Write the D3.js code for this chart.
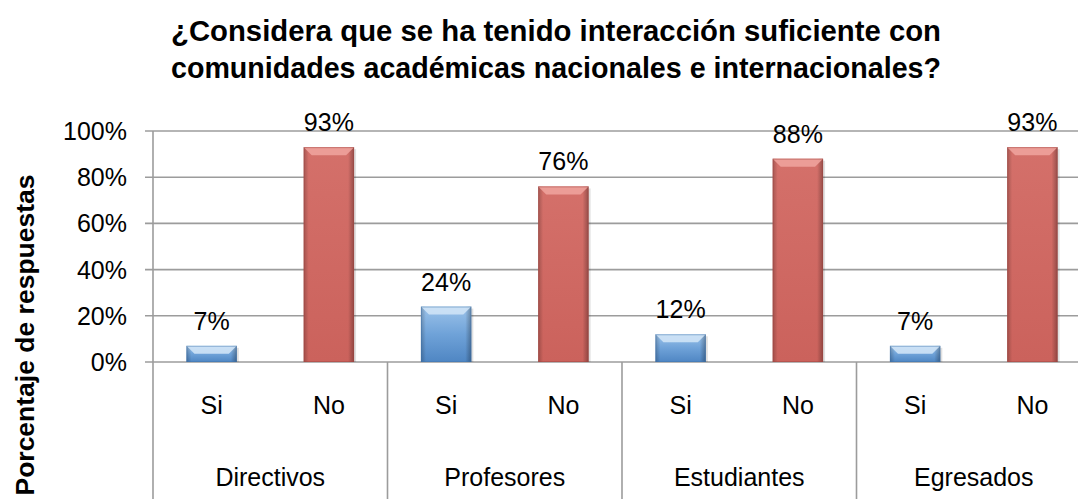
<!DOCTYPE html>
<html>
<head>
<meta charset="utf-8">
<script src="https://cdn.jsdelivr.net/npm/d3@7"></script>
<style>
  html, body { margin: 0; padding: 0; background: #fff; }
  svg { display: block; }
  text { font-family: "Liberation Sans", Arial, sans-serif; fill: #000; }
</style>
</head>
<body>
<svg id="chart" width="1078" height="499"></svg>
<script>
// Survey results per respondent group
const groups = ["Directivos", "Profesores", "Estudiantes", "Egresados"];
const answers = ["Si", "No"];
const siValues = [7, 24, 12, 7];
const noValues = [93, 76, 88, 93];
const yTicks = [0, 20, 40, 60, 80, 100];
const titleLines = [
  "¿Considera que se ha tenido interacción suficiente con",
  "comunidades académicas nacionales e internacionales?"
];
const yAxisTitle = "Porcentaje de respuestas";

const rows = groups.flatMap((g, i) => [
  { group: g, answer: "Si", value: siValues[i] },
  { group: g, answer: "No", value: noValues[i] }
]);

const svg = d3.select("#chart");
const W = 1078, H = 499;
const plot = { left: 153, right: 1091, top: 131, bottom: 362 };

const x0 = d3.scaleBand().domain(groups).range([plot.left, plot.right]).padding(0);
const x1 = d3.scaleBand().domain(answers).range([0, x0.bandwidth()]).padding(0);
const y = d3.scaleLinear().domain([0, 100]).range([plot.bottom, plot.top]);
const barW = x1.bandwidth() * 0.43;

const gridColor = "#9c9c9c";

// Gradients for the bevelled bars
const defs = svg.append("defs");
function vGrad(id, stops) {
  const g = defs.append("linearGradient").attr("id", id)
    .attr("x1", 0).attr("y1", 0).attr("x2", 0).attr("y2", 1);
  stops.forEach(([o, c]) => g.append("stop").attr("offset", o).attr("stop-color", c));
}
function hGrad(id, stops) {
  const g = defs.append("linearGradient").attr("id", id)
    .attr("x1", 0).attr("y1", 0).attr("x2", 1).attr("y2", 0);
  stops.forEach(([o, c, a]) => g.append("stop").attr("offset", o)
    .attr("stop-color", c).attr("stop-opacity", a));
}
vGrad("fillSi", [[0, "#9cc3ea"], [0.5, "#6fa2d8"], [1, "#4f86c3"]]);
vGrad("fillNo", [[0, "#d4706a"], [1, "#cb625c"]]);
hGrad("sideShade", [[0, "#000", 0.22], [0.1, "#000", 0.0], [0.88, "#000", 0.0], [1, "#000", 0.3]]);

const colors = {
  Si: { fill: "url(#fillSi)", top: "#cfe3f6", edge: "#3f73ad" },
  No: { fill: "url(#fillNo)", top: "#eea29c", edge: "#9e4540" }
};

// Horizontal gridlines and y ticks
svg.append("g").selectAll("line").data(yTicks).join("line")
  .attr("x1", plot.left - 8).attr("x2", W)
  .attr("y1", d => y(d)).attr("y2", d => y(d))
  .attr("stroke", gridColor).attr("stroke-width", 1.6);

svg.append("g").selectAll("text").data(yTicks).join("text")
  .attr("x", 127).attr("y", d => y(d)).attr("dy", "0.36em")
  .attr("text-anchor", "end").attr("font-size", 25)
  .text(d => d + "%");

// Left axis line and category separators below the baseline
svg.append("line")
  .attr("x1", plot.left).attr("x2", plot.left)
  .attr("y1", plot.top).attr("y2", H)
  .attr("stroke", gridColor).attr("stroke-width", 1.6);

svg.append("g").selectAll("line").data(groups.slice(1).concat(["__end"])).join("line")
  .attr("x1", (d, i) => plot.left + x0.bandwidth() * (i + 1))
  .attr("x2", (d, i) => plot.left + x0.bandwidth() * (i + 1))
  .attr("y1", plot.bottom).attr("y2", H)
  .attr("stroke", gridColor).attr("stroke-width", 1.6);

// Bars
const bars = svg.append("g").selectAll("g").data(rows).join("g")
  .attr("transform", d => `translate(${x0(d.group) + x1(d.answer) + (x1.bandwidth() - barW) / 2},0)`);

bars.each(function (d) {
  const g = d3.select(this);
  const top = y(d.value), h = plot.bottom - top;
  const c = colors[d.answer];
  const bev = Math.min(8, h / 2);
  // soft drop shadow
  g.append("rect").attr("x", 2).attr("y", top + 2).attr("width", barW).attr("height", h - 2)
    .attr("fill", "#000").attr("opacity", 0.12);
  g.append("rect").attr("x", 0).attr("y", top).attr("width", barW).attr("height", h)
    .attr("fill", c.fill);
  g.append("rect").attr("x", 0).attr("y", top).attr("width", barW).attr("height", h)
    .attr("fill", "url(#sideShade)");
  // light chamfer on top
  g.append("path")
    .attr("d", `M0,${top}H${barW}L${barW - bev},${top + bev}H${bev}Z`)
    .attr("fill", c.top).attr("opacity", 0.9);
  g.append("rect").attr("x", 0.5).attr("y", top + 0.5).attr("width", barW - 1).attr("height", h - 1)
    .attr("fill", "none").attr("stroke", c.edge).attr("stroke-opacity", 0.45).attr("stroke-width", 1);
});

// Value labels
svg.append("g").selectAll("text").data(rows).join("text")
  .attr("x", d => x0(d.group) + x1(d.answer) + x1.bandwidth() / 2)
  .attr("y", d => y(d.value) - 16)
  .attr("text-anchor", "middle").attr("font-size", 25)
  .text(d => d.value + "%");

// Category labels: answer row and group row
svg.append("g").selectAll("text").data(rows).join("text")
  .attr("x", d => x0(d.group) + x1(d.answer) + x1.bandwidth() / 2)
  .attr("y", 414)
  .attr("text-anchor", "middle").attr("font-size", 25)
  .text(d => d.answer);

svg.append("g").selectAll("text").data(groups).join("text")
  .attr("x", d => x0(d) + x0.bandwidth() / 2)
  .attr("y", 486)
  .attr("text-anchor", "middle").attr("font-size", 25)
  .text(d => d);

// Title
const title = svg.append("g").attr("font-weight", "bold");
title.selectAll("text").data(titleLines).join("text")
  .attr("x", 556).attr("y", (d, i) => 41 + i * 37)
  .attr("text-anchor", "middle").attr("font-size", 29)
  .attr("textLength", 770).attr("lengthAdjust", "spacingAndGlyphs")
  .text(d => d);

// Y axis title
svg.append("text")
  .attr("transform", "translate(34,335) rotate(-90)")
  .attr("text-anchor", "middle").attr("font-size", 26.5).attr("font-weight", "bold")
  .text(yAxisTitle);
</script>
</body>
</html>
